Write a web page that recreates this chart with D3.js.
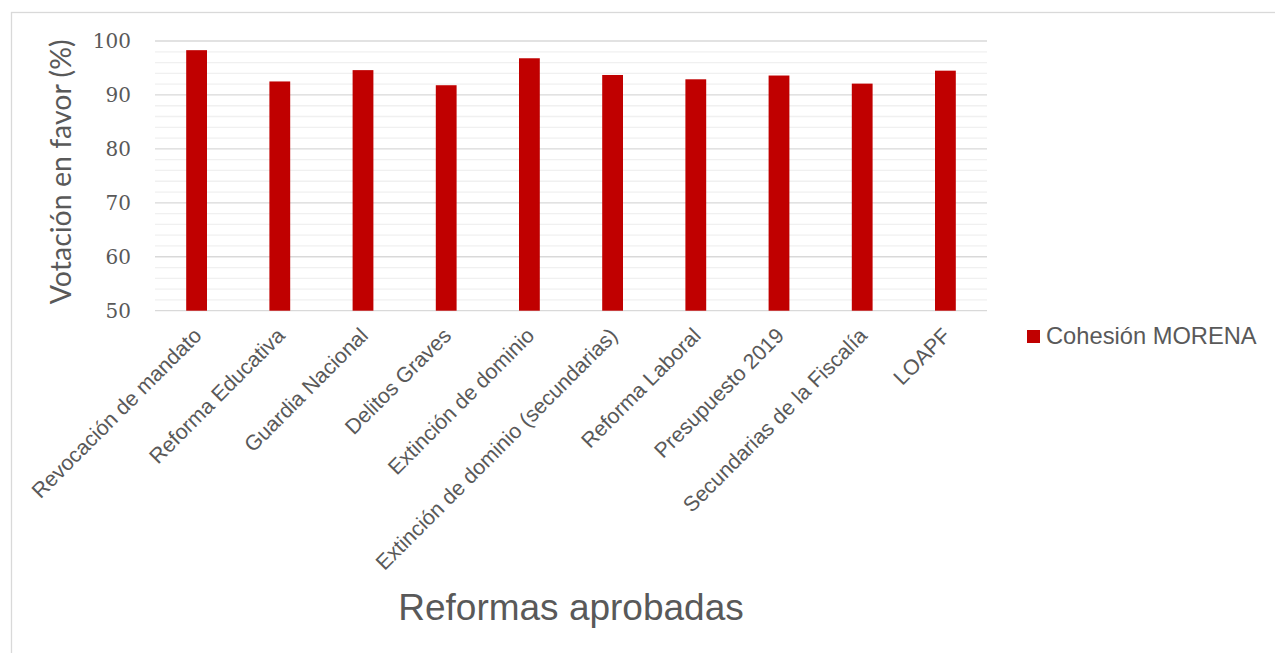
<!DOCTYPE html>
<html>
<head>
<meta charset="utf-8">
<script src="https://cdn.jsdelivr.net/npm/d3@7/dist/d3.min.js"></script>
<style>
  html, body { margin: 0; padding: 0; background: #ffffff; }
  svg { display: block; }
</style>
</head>
<body>
<script>
const categories = [
  "Revocación de mandato",
  "Reforma Educativa",
  "Guardia Nacional",
  "Delitos Graves",
  "Extinción de dominio",
  "Extinción de dominio (secundarias)",
  "Reforma Laboral",
  "Presupuesto 2019",
  "Secundarias de la Fiscalía",
  "LOAPF"
];
const cohesionMorena = [98.3, 92.5, 94.6, 91.8, 96.8, 93.7, 92.9, 93.6, 92.1, 94.5];
const yTicks = [50, 60, 70, 80, 90, 100];
const yMinorTicks = d3.range(52, 100, 2).filter(v => v % 10 !== 0);
const seriesName = "Cohesión MORENA";
const xTitle = "Reformas aprobadas";
const yTitle = "Votación en favor (%)";

const W = 1275, H = 653;
const textColor = "#595959";
const barColor = "#c00000";

const svg = d3.select("body").append("svg")
  .attr("width", W).attr("height", H);

// chart border
svg.append("rect")
  .attr("x", 11.5).attr("y", 12.5)
  .attr("width", W + 20).attr("height", H + 20)
  .attr("fill", "none").attr("stroke", "#d9d9d9").attr("stroke-width", 1.3);

const plot = { left: 155, right: 987, top: 41, bottom: 310.7 };

const x = d3.scaleBand()
  .domain(categories)
  .range([plot.left, plot.right])
  .paddingInner(0.75)
  .paddingOuter(0.375);

const y = d3.scaleLinear()
  .domain([50, 100])
  .range([plot.bottom, plot.top]);

// minor gridlines
svg.append("g").selectAll("line")
  .data(yMinorTicks).join("line")
  .attr("x1", plot.left).attr("x2", plot.right)
  .attr("y1", d => y(d)).attr("y2", d => y(d))
  .attr("stroke", "#f0f0f0").attr("stroke-width", 1.3);

// major gridlines
svg.append("g").selectAll("line")
  .data(yTicks).join("line")
  .attr("x1", plot.left).attr("x2", plot.right)
  .attr("y1", d => y(d)).attr("y2", d => y(d))
  .attr("stroke", "#d9d9d9").attr("stroke-width", 1.3);

// y axis labels
const yAxis = d3.axisLeft(y).tickValues(yTicks).tickSize(0).tickPadding(24);
const gy = svg.append("g").attr("transform", `translate(${plot.left},0)`).call(yAxis);
gy.select(".domain").remove();
gy.selectAll("text")
  .attr("fill", textColor)
  .style("font-family", "'DejaVu Serif', serif")
  .style("font-size", "20px");

// bars
svg.append("g").selectAll("rect")
  .data(cohesionMorena).join("rect")
  .attr("x", (d, i) => x(categories[i]))
  .attr("width", x.bandwidth())
  .attr("y", d => y(d))
  .attr("height", d => y(50) - y(d))
  .attr("fill", barColor);

// x axis labels
const xAxis = d3.axisBottom(x).tickSize(0).tickPadding(0);
const gx = svg.append("g").attr("transform", `translate(0,${plot.bottom})`).call(xAxis);
gx.select(".domain").remove();
gx.selectAll("text")
  .attr("fill", textColor)
  .style("font-family", "'Liberation Sans', Arial, sans-serif")
  .style("font-size", "21.3px")
  .attr("text-anchor", "end")
  .attr("y", 0).attr("dy", "0.35em")
  .attr("transform", "translate(1,21) rotate(-45)");

// x title
svg.append("text")
  .attr("x", 571).attr("y", 620)
  .attr("text-anchor", "middle")
  .attr("fill", textColor)
  .style("font-family", "'Liberation Sans', Arial, sans-serif")
  .style("font-size", "37px")
  .text(xTitle);

// y title
svg.append("text")
  .attr("transform", `translate(71,${(plot.top + plot.bottom) / 2 - 4}) rotate(-90)`)
  .attr("text-anchor", "middle")
  .attr("fill", textColor)
  .style("font-family", "Lato, 'Open Sans', sans-serif")
  .style("font-size", "28.5px")
  .text(yTitle);

// legend
const lg = svg.append("g");
lg.append("rect")
  .attr("x", 1027).attr("y", 330)
  .attr("width", 13).attr("height", 13)
  .attr("fill", barColor);
lg.append("text")
  .attr("x", 1046).attr("y", 343.5)
  .attr("fill", textColor)
  .style("font-family", "'Liberation Sans', Arial, sans-serif")
  .style("font-size", "23.7px")
  .text(seriesName);
</script>
</body>
</html>
